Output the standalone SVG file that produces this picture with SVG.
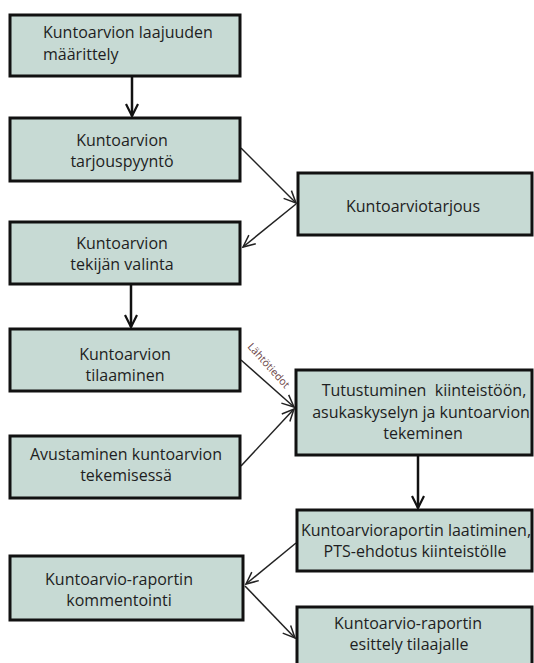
<svg xmlns="http://www.w3.org/2000/svg" width="534" height="663" viewBox="0 0 534 663">
<style>
.box{fill:#c7dad4;stroke:#111;stroke-width:3}
.t{font-family:"Open Sans","Noto Sans",sans-serif;font-size:16px;fill:#1e1e22;text-anchor:middle}
.tl{text-anchor:start}
.v{stroke:#111;stroke-width:2.5;fill:none}
.d{stroke:#222;stroke-width:1.5;fill:none}
.lbl{font-family:"Open Sans","Noto Sans",sans-serif;font-size:10.5px;fill:#6a4446;text-anchor:middle}
</style>
<defs>
<marker id="av" markerUnits="userSpaceOnUse" markerWidth="16" markerHeight="16" refX="13" refY="7" orient="auto" viewBox="0 0 16 14">
<path d="M1,1 L13,7 L1,13" fill="none" stroke="#111" stroke-width="2.2"/>
</marker>
<marker id="ad" markerUnits="userSpaceOnUse" markerWidth="16" markerHeight="16" refX="13" refY="7" orient="auto" viewBox="0 0 16 14">
<path d="M1,1.5 L13,7 L1,12.5" fill="none" stroke="#222" stroke-width="1.5"/>
</marker>
</defs>
<rect width="534" height="663" fill="#fff"/>
<g id="connectors">
<line class="v" x1="132" y1="77" x2="132" y2="116" marker-end="url(#av)"/>
<line class="d" x1="241" y1="148" x2="296" y2="203" marker-end="url(#ad)"/>
<line class="d" x1="296" y1="204" x2="243" y2="247" marker-end="url(#ad)"/>
<line class="v" x1="131" y1="285" x2="131" y2="327" marker-end="url(#av)"/>
<line class="d" x1="241" y1="360" x2="294" y2="407" marker-end="url(#ad)"/>
<line class="d" x1="241" y1="466" x2="294" y2="409" marker-end="url(#ad)"/>
<line class="v" x1="418" y1="456" x2="418" y2="508" marker-end="url(#av)"/>
<line class="d" x1="296" y1="543" x2="246" y2="584" marker-end="url(#ad)"/>
<line class="d" x1="245" y1="586" x2="295" y2="638" marker-end="url(#ad)"/>
<text class="lbl" transform="translate(266,368) rotate(48)">Lähtötiedot</text>
</g>
<g id="n1">
<rect class="box" x="10" y="15" width="230" height="61"/>
<text class="t tl" x="43" y="38">Kuntoarvion laajuuden</text>
<text class="t tl" x="43" y="60">määrittely</text>
</g>
<g id="n2">
<rect class="box" x="10" y="118" width="230" height="63"/>
<text class="t" x="122" y="146">Kuntoarvion</text>
<text class="t" x="122" y="167">tarjouspyyntö</text>
</g>
<g id="n3">
<rect class="box" x="298" y="173" width="234" height="62"/>
<text class="t" x="413" y="212">Kuntoarviotarjous</text>
</g>
<g id="n4">
<rect class="box" x="10" y="222" width="230" height="62"/>
<text class="t" x="122" y="249">Kuntoarvion</text>
<text class="t" x="122" y="270">tekijän valinta</text>
</g>
<g id="n5">
<rect class="box" x="10" y="329" width="230" height="62"/>
<text class="t" x="125" y="360">Kuntoarvion</text>
<text class="t" x="125" y="381">tilaaminen</text>
</g>
<g id="n6">
<rect class="box" x="10" y="436" width="230" height="62"/>
<text class="t" x="126" y="460">Avustaminen kuntoarvion</text>
<text class="t" x="126" y="481">tekemisessä</text>
</g>
<g id="n7">
<rect class="box" x="296" y="370" width="236" height="85"/>
<text class="t" x="424" y="396" xml:space="preserve">Tutustuminen  kiinteistöön,</text>
<text class="t" x="421" y="418">asukaskyselyn ja kuntoarvion</text>
<text class="t" x="423" y="439">tekeminen</text>
</g>
<g id="n8">
<rect class="box" x="297" y="510" width="235" height="61"/>
<text class="t" x="416" y="536">Kuntoarvioraportin laatiminen,</text>
<text class="t" x="415" y="557">PTS-ehdotus kiinteistölle</text>
</g>
<g id="n9">
<rect class="box" x="10" y="556" width="233" height="64"/>
<text class="t" x="119" y="585">Kuntoarvio-raportin</text>
<text class="t" x="119" y="606">kommentointi</text>
</g>
<g id="n10">
<rect class="box" x="297" y="607" width="235" height="70"/>
<text class="t" x="408" y="629">Kuntoarvio-raportin</text>
<text class="t" x="409" y="650">esittely tilaajalle</text>
</g>
</svg>
